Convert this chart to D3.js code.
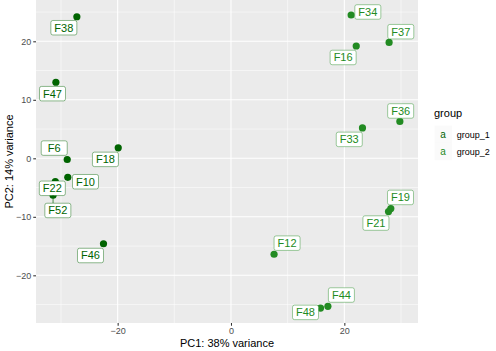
<!DOCTYPE html>
<html lang="en">
  <head>
    <meta charset="utf-8">
    <title>PCA</title>
    <script src="https://cdn.jsdelivr.net/npm/d3@7"></script>
    <style>
      body { margin: 0; background: #fff; }
      text { font-family: 'Liberation Sans', Arial, sans-serif; }
    </style>
  </head>
  <body>
    <div id='main'></div>
    <script type='text/javascript'>
      // samples and their PCA coordinates
      let samples = ['F38','F47','F6','F18','F10','F22','F52','F46',
                     'F34','F37','F16','F36','F33','F19','F21','F12','F44','F48']
      let pc1 = [-27.2,-30.9,-28.9,-19.9,-28.8,-31.0,-31.4,-22.5,
                 21.2, 27.9, 22.1, 29.8, 23.2, 28.2, 27.8, 7.6, 17.1, 15.8]
      let pc2 = [24.2, 13.0, -0.2, 1.8, -3.25, -4.0, -6.3, -14.6,
                 24.5, 19.8, 19.2, 6.3, 5.2, -8.6, -9.1, -16.4, -25.3, -25.6]
      let groups = ['group_1','group_1','group_1','group_1','group_1','group_1','group_1','group_1',
                    'group_2','group_2','group_2','group_2','group_2','group_2','group_2','group_2','group_2','group_2']
      let groupNames = ['group_1','group_2']
      let xTicks = [-20, 0, 20]
      let yTicks = [-20, -10, 0, 10, 20]

      // label nudges (pixels) that ggrepel ended up with
      let labelNudge = {
        F38:[-13,11], F47:[-3.4,11.4], F6:[-13,-11.4], F18:[-12.8,11.6], F10:[17.7,4.4],
        F22:[-3,6.6], F52:[4.8,15.3], F46:[-13,11.8], F34:[16.7,-3], F37:[11.7,-10.8],
        F16:[-13.1,11.5], F36:[0.8,-10.5], F33:[-13.2,11.5], F19:[9.7,-11.2], F21:[-12.6,11.5],
        F12:[13,-11.1], F44:[13.5,-11.3], F48:[-15,4.3]
      }

      let colour = d3.scaleOrdinal().domain(groupNames).range(['#006400','#228B22'])

      let W = 496, H = 351
      let panel = {left: 36, right: 418, top: 0, bottom: 323}

      let svg = d3.select('#main').append('svg')
        .attr('width', W)
        .attr('height', H)

      let scale_x = d3.scaleLinear()
        .domain([-34.41, 33.0])
        .range([panel.left, panel.right])
      let scale_y = d3.scaleLinear()
        .domain([-28.15, 27.06])
        .range([panel.bottom, panel.top])

      svg.append('rect')
        .attr('x', panel.left).attr('y', panel.top)
        .attr('width', panel.right - panel.left)
        .attr('height', panel.bottom - panel.top)
        .attr('fill', '#EBEBEB')

      let grid = svg.append('g')
      let xMinor = [-30, -10, 10, 30]
      let yMinor = [-25, -15, -5, 5, 15, 25]
      grid.selectAll('.xminor').data(xMinor).enter().append('line')
        .attr('x1', d => scale_x(d)).attr('x2', d => scale_x(d))
        .attr('y1', panel.top).attr('y2', panel.bottom)
        .attr('stroke', '#fff').attr('stroke-width', 0.53)
      grid.selectAll('.yminor').data(yMinor).enter().append('line')
        .attr('y1', d => scale_y(d)).attr('y2', d => scale_y(d))
        .attr('x1', panel.left).attr('x2', panel.right)
        .attr('stroke', '#fff').attr('stroke-width', 0.53)
      grid.selectAll('.xmajor').data(xTicks).enter().append('line')
        .attr('x1', d => scale_x(d)).attr('x2', d => scale_x(d))
        .attr('y1', panel.top).attr('y2', panel.bottom)
        .attr('stroke', '#fff').attr('stroke-width', 1.07)
      grid.selectAll('.ymajor').data(yTicks).enter().append('line')
        .attr('y1', d => scale_y(d)).attr('y2', d => scale_y(d))
        .attr('x1', panel.left).attr('x2', panel.right)
        .attr('stroke', '#fff').attr('stroke-width', 1.07)

      // axes
      let x_axis = d3.axisBottom(scale_x).tickValues(xTicks).tickSize(2.75).tickPadding(2)
      let gx = svg.append('g')
        .attr('transform', 'translate(0,' + panel.bottom + ')')
        .call(x_axis)
      let y_axis = d3.axisLeft(scale_y).tickValues(yTicks).tickSize(2.75).tickPadding(2)
      let gy = svg.append('g')
        .attr('transform', 'translate(' + panel.left + ',0)')
        .call(y_axis)
      for (let g of [gx, gy]) {
        g.select('.domain').remove()
        g.selectAll('line').attr('stroke', '#333333').attr('stroke-width', 1.07)
        g.selectAll('text')
          .attr('fill', '#4D4D4D')
          .attr('font-size', '9px')
          .attr('font-family', "'Liberation Sans', Arial, sans-serif")
      }
      gx.selectAll('text').attr('dy', '0.71em')

      svg.append('text')
        .attr('x', (panel.left + panel.right) / 2)
        .attr('y', 346.5)
        .attr('text-anchor', 'middle')
        .attr('font-size', '11px')
        .text('PC1: 38% variance')
      svg.append('text')
        .attr('transform', 'translate(12.5,' + (panel.top + panel.bottom) / 2 + ') rotate(-90)')
        .attr('text-anchor', 'middle')
        .attr('font-size', '11px')
        .text('PC2: 14% variance')

      let pts = samples.map((s, i) => ({name: s, x: pc1[i], y: pc2[i], group: groups[i]}))

      // points first, labels drawn on top (as geom_label_repel does)
      svg.append('g').selectAll('circle')
        .data(pts)
        .enter()
        .append('circle')
        .attr('cx', d => scale_x(d.x))
        .attr('cy', d => scale_y(d.y))
        .attr('r', 3.6)
        .attr('fill', d => colour(d.group))

      let boxW = 26, boxH = 14.5
      let labels = svg.append('g')
      pts.forEach(p => {
        let px = scale_x(p.x), py = scale_y(p.y)
        let cx = px + labelNudge[p.name][0], cy = py + labelNudge[p.name][1]
        // segment from point to nearest edge of the box, only if it is far away
        let nx = Math.max(cx - boxW / 2, Math.min(px, cx + boxW / 2))
        let ny = Math.max(cy - boxH / 2, Math.min(py, cy + boxH / 2))
        if (Math.hypot(nx - px, ny - py) > 6) {
          labels.append('line')
            .attr('x1', px).attr('y1', py).attr('x2', nx).attr('y2', ny)
            .attr('stroke', colour(p.group)).attr('stroke-width', 0.7)
        }
        labels.append('rect')
          .attr('x', cx - boxW / 2).attr('y', cy - boxH / 2)
          .attr('width', boxW).attr('height', boxH)
          .attr('rx', 2).attr('ry', 2)
          .attr('fill', '#fff')
          .attr('stroke', colour(p.group))
          .attr('stroke-opacity', 0.55)
          .attr('stroke-width', 0.8)
        labels.append('text')
          .attr('x', cx).attr('y', cy)
          .attr('dy', '0.36em')
          .attr('text-anchor', 'middle')
          .attr('font-size', '11px')
          .attr('fill', colour(p.group))
          .text(p.name)
      })

      // legend
      let legend = svg.append('g')
      legend.append('text')
        .attr('x', 434).attr('y', 117)
        .attr('font-size', '11px')
        .text('group')
      groupNames.forEach((g, i) => {
        let cy = 134.3 + i * 17.2
        legend.append('rect')
          .attr('x', 434.7).attr('y', cy - 8.6)
          .attr('width', 17.2).attr('height', 17.2)
          .attr('fill', '#F2F2F2').attr('fill-opacity', 0.35)
        legend.append('text')
          .attr('x', 443).attr('y', cy).attr('dy', '0.36em')
          .attr('text-anchor', 'middle')
          .attr('font-size', '10px')
          .attr('fill', colour(g))
          .text('a')
        legend.append('text')
          .attr('x', 456.7).attr('y', cy).attr('dy', '0.36em')
          .attr('font-size', '9px')
          .text(g)
      })
    </script>
  </body>
</html>
